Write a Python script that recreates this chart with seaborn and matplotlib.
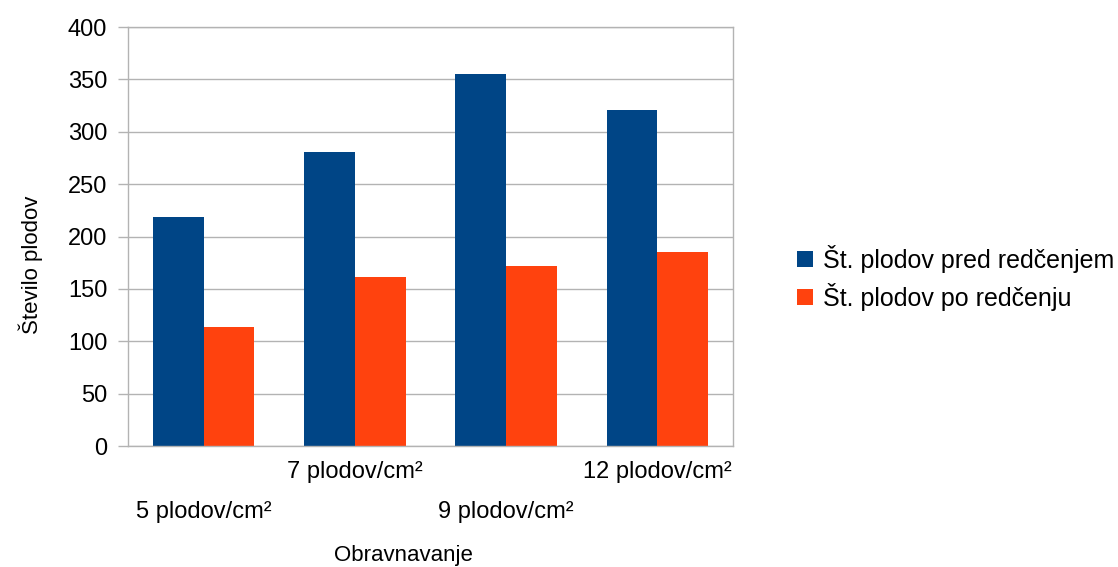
import matplotlib
matplotlib.use('Agg')
import matplotlib.pyplot as plt
import pandas as pd
import seaborn as sns

# data
categories = ['5 plodov/cm²', '7 plodov/cm²', '9 plodov/cm²', '12 plodov/cm²']
before_thinning = [219, 281, 355, 321]
after_thinning = [114, 161, 172, 185]
series_names = ['Št. plodov pred redčenjem', 'Št. plodov po redčenju']
colors = ['#004586', '#ff420e']

df = pd.DataFrame({
    'Obravnavanje': categories * 2,
    'Število plodov': before_thinning + after_thinning,
    'serija': [series_names[0]] * 4 + [series_names[1]] * 4,
})

sns.set_style('white')
plt.rcParams['font.family'] = ['Liberation Sans', 'DejaVu Sans']
plt.rcParams['text.color'] = 'black'
plt.rcParams['axes.labelcolor'] = 'black'
plt.rcParams['xtick.labelcolor'] = 'black'
plt.rcParams['ytick.labelcolor'] = 'black'

fig = plt.figure(figsize=(11.18, 5.67), dpi=100)
ax = fig.add_axes([0.1145, 0.2134, 0.5411, 0.7389])

sns.barplot(
    data=df,
    x='Obravnavanje',
    y='Število plodov',
    hue='serija',
    palette=colors,
    width=0.67,
    saturation=1,
    linewidth=0,
    ax=ax,
)

# gridlines and frame in light gray
grid_col = '#b3b3b3'
ax.set_ylim(0, 400)
ax.set_xlim(-0.5, 3.5)
ax.set_yticks(range(0, 401, 50))
ax.yaxis.grid(True, color=grid_col, linewidth=1)
ax.set_axisbelow(True)
for s in ax.spines.values():
    s.set_color(grid_col)
    s.set_linewidth(1)

# staggered category labels, tick marks between categories
labels = [('\n' + c) if i % 2 == 0 else c for i, c in enumerate(categories)]
ax.set_xticks(range(4))
ax.set_xticklabels(labels, fontsize=17, linespacing=2.05)
ax.set_xticks([-0.5, 0.5, 1.5, 2.5, 3.5], minor=True)
ax.tick_params(axis='x', which='major', length=0, pad=11)
ax.tick_params(axis='x', which='minor', length=9, color=grid_col, width=1)
ax.tick_params(axis='y', length=7, color=grid_col, width=1, labelsize=17, pad=8)
ax.tick_params(axis='y', left=True)

ax.set_xlabel('Obravnavanje', fontsize=16)
ax.set_ylabel('Število plodov', fontsize=16)
ax.xaxis.set_label_coords(0.455, -0.237)
ax.yaxis.set_label_coords(-0.141, 0.432)

handles, _ = ax.get_legend_handles_labels()
ax.get_legend().remove()
fig.legend(handles, series_names, loc='center left', bbox_to_anchor=(0.693, 0.51),
           frameon=False, fontsize=18, handlelength=0.62, handleheight=0.62,
           handletextpad=0.4, labelspacing=0.42)

plt.savefig('out.png', dpi=100)
